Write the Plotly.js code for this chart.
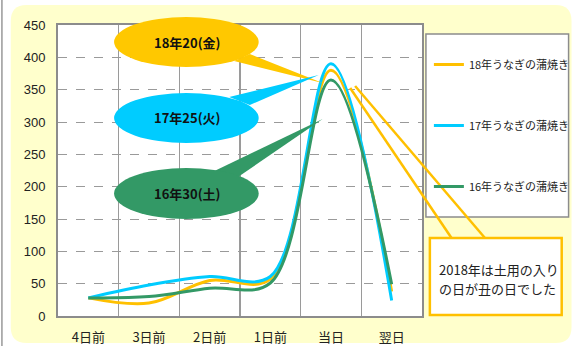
<!DOCTYPE html>
<html>
<head>
<meta charset="utf-8">
<script src="https://cdn.plot.ly/plotly-3.0.1.min.js"></script>
<style>
  html, body { margin: 0; padding: 0; background: #ffffff; }
  #chart { width: 587px; height: 346px; }
</style>
</head>
<body>
<div id="chart"></div>
<script>
// Sales index around the "doyo no ushi no hi" day, by year
const categories = ["4日前", "3日前", "2日前", "1日前", "当日", "翌日"];
const sales2018 = [28, 20, 55, 57, 380, 38];
const sales2017 = [28, 48, 61, 61, 390, 24];
const sales2016 = [28, 30, 43, 51, 365, 49];
const seriesNames = ["18年うなぎの蒲焼き", "17年うなぎの蒲焼き", "16年うなぎの蒲焼き"];
const bubbleLabels = ["18年20(金)", "17年25(火)", "16年30(土)"];
const noteLines = ["2018年は土用の入り", "の日が丑の日でした"];
const yTicks = [0, 50, 100, 150, 200, 250, 300, 350, 400, 450];

const W = 587, H = 346;
const L = 58, R = 428, T = 25, B = 316;   // plot area in px
const px = x => (x - L) / (R - L);
const py = y => (B - y) / (B - T);

const ORANGE = "#FFC000", BLUE = "#00CCFF", GREEN = "#339966";
const FONT = "Liberation Sans, Noto Sans CJK JP, sans-serif";
const JP = "Noto Sans CJK JP, sans-serif";

function line(name, values, color, group) {
  return {
    type: "scatter", mode: "lines", name: name, x: categories, y: values,
    line: { color: color, width: 3, shape: "spline", smoothing: 1 },
    legendgroup: group, hoverinfo: "skip"
  };
}
const traces = [
  line(seriesNames[0], sales2018, ORANGE, "g18"),
  line(seriesNames[1], sales2017, BLUE, "g17"),
  line(seriesNames[2], sales2016, GREEN, "g16")
];

// rounded rectangle path in paper coordinates
function roundRect(x0, y0, x1, y1, r) {
  const X = v => px(v).toFixed(5), Y = v => py(v).toFixed(5);
  return "M" + X(x0 + r) + "," + Y(y0) +
    " L" + X(x1 - r) + "," + Y(y0) + " Q" + X(x1) + "," + Y(y0) + " " + X(x1) + "," + Y(y0 + r) +
    " L" + X(x1) + "," + Y(y1 - r) + " Q" + X(x1) + "," + Y(y1) + " " + X(x1 - r) + "," + Y(y1) +
    " L" + X(x0 + r) + "," + Y(y1) + " Q" + X(x0) + "," + Y(y1) + " " + X(x0) + "," + Y(y1 - r) +
    " L" + X(x0) + "," + Y(y0 + r) + " Q" + X(x0) + "," + Y(y0) + " " + X(x0 + r) + "," + Y(y0) + " Z";
}
function poly(pts) {
  return pts.map((p, i) => (i ? "L" : "M") + px(p[0]).toFixed(5) + "," + py(p[1]).toFixed(5)).join(" ") + " Z";
}
function rect(x0, y0, x1, y1, fill, lineColor, lw, layer) {
  return { type: "rect", xref: "paper", yref: "paper", x0: px(x0), x1: px(x1), y0: py(y1), y1: py(y0),
    fillcolor: fill, line: { color: lineColor, width: lw }, layer: layer };
}
function ellipse(x0, y0, x1, y1, fill) {
  return { type: "circle", xref: "paper", yref: "paper", x0: px(x0), x1: px(x1), y0: py(y1), y1: py(y0),
    fillcolor: fill, line: { width: 0 }, layer: "above" };
}
function wedge(pts, fill) {
  return { type: "path", xref: "paper", yref: "paper", path: poly(pts), fillcolor: fill,
    line: { width: 0 }, layer: "above" };
}
function seg(x0, y0, x1, y1, color, w) {
  return { type: "line", xref: "paper", yref: "paper", x0: px(x0), y0: py(y0), x1: px(x1), y1: py(y1),
    line: { color: color, width: w }, layer: "above" };
}

const shapes = [
  { type: "line", xref: "paper", yref: "paper", x0: px(1), x1: px(1), y0: py(0), y1: py(H),
    line: { color: "#999999", width: 1.5 }, layer: "below" },
  { type: "path", xref: "paper", yref: "paper", path: roundRect(10, 5, 580, 343, 16),
    fillcolor: "#FFFFCC", line: { width: 0 }, layer: "below" },
  rect(L, T, R, B, "#FFFFFF", "rgba(0,0,0,0)", 0, "below"),
  // legend frame
  rect(432, 34, 577, 217, "#FFFFFF", "#8C8C8C", 1.5, "below"),
  // callout bubbles
  wedge([[237, 61], [253, 54], [327, 83]], "#FFC800"),
  ellipse(115, 17, 262, 67, "#FFC800"),
  wedge([[232, 97], [253, 105], [323, 75]], BLUE),
  ellipse(115, 93, 262, 143, BLUE),
  wedge([[217, 171], [241, 177], [327, 119]], GREEN),
  ellipse(115, 168, 262, 219, GREEN),
  // note box pointer
  seg(355, 88, 458, 238, ORANGE, 2.5),
  seg(360, 86, 492, 238, ORANGE, 2.5),
  rect(436, 238, 570, 315, "#FFFFFF", ORANGE, 2.5, "above")
];

const annotations = [
  [bubbleLabels[0], 42], [bubbleLabels[1], 118], [bubbleLabels[2], 194]
].map(([t, y]) => ({
  xref: "paper", yref: "paper", x: px(190), y: py(y), text: "<b>" + t + "</b>",
  showarrow: false, xanchor: "center", yanchor: "middle",
  font: { family: JP, size: 13, color: "#111111" }
}));
noteLines.forEach((t, i) => annotations.push({
  xref: "paper", yref: "paper", x: px(443), y: py(269 + 19 * i), text: t,
  showarrow: false, xanchor: "left", yanchor: "middle", align: "left",
  font: { family: JP, size: 13, color: "#222222" }
}));

const layout = {
  width: W, height: H,
  margin: { l: L, r: W - R, t: T, b: H - B, pad: 0 },
  paper_bgcolor: "#FFFFFF", plot_bgcolor: "#FFFFFF",
  font: { family: FONT, size: 13, color: "#222222" },
  showlegend: true,
  legend: {
    x: px(435), xanchor: "left", y: py(50), yanchor: "top",
    bgcolor: "rgba(0,0,0,0)", borderwidth: 0,
    traceorder: "grouped", tracegroupgap: 42,
    font: { family: JP, size: 11, color: "#222222" }
  },
  xaxis: {
    type: "category", categoryorder: "array", categoryarray: categories,
    range: [-0.5, 5.5], autorange: false,
    tickson: "boundaries", ticks: "", showgrid: true, gridcolor: "#9A9A9A", gridwidth: 1.5,
    showline: true, linecolor: "#8C8C8C", linewidth: 2, mirror: true,
    ticklabelstandoff: 8, tickfont: { family: JP, size: 13, color: "#222222" },
    fixedrange: true
  },
  yaxis: {
    range: [0, 450], tickvals: yTicks, ticktext: yTicks.map(String), ticks: "",
    showgrid: true, gridcolor: "#9A9A9A", gridwidth: 1, griddash: "dash", zeroline: false,
    showline: true, linecolor: "#8C8C8C", linewidth: 2, mirror: true,
    ticklabelstandoff: 8, tickfont: { family: FONT, size: 13, color: "#222222" },
    fixedrange: true
  },
  shapes: shapes,
  annotations: annotations
};

Plotly.newPlot("chart", traces, layout, { staticPlot: true, displayModeBar: false });
</script>
</body>
</html>
